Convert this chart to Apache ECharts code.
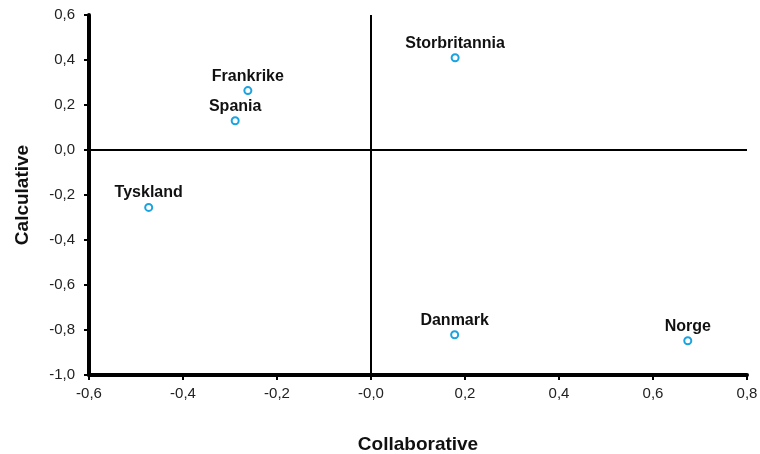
<!DOCTYPE html>
<html><head><meta charset="utf-8">
<script src="https://cdn.jsdelivr.net/npm/echarts@6/dist/echarts.min.js"></script>
<style>html,body{margin:0;padding:0;background:#fff}#c{width:760px;height:454px}</style>
</head><body><div id="c"></div>
<script>
var countries = ['Storbritannia','Frankrike','Spania','Tyskland','Danmark','Norge'];
var collaborative = [0.179, -0.262, -0.289, -0.473, 0.178, 0.674];
var calculative = [0.41, 0.264, 0.130, -0.255, -0.821, -0.848];
var xTitle = 'Collaborative';
var yTitle = 'Calculative';

var data = countries.map(function(n,i){return {name:n, value:[collaborative[i], calculative[i]]};});
function fmt(v){ return v.toFixed(1).replace('.', ','); }
var font = 'Liberation Sans, Arial, Helvetica, sans-serif';
var chart = echarts.init(document.getElementById('c'), null, {renderer:'canvas'});
chart.setOption({
  animation:false,
  grid:{left:89,right:13,top:15,bottom:79,containLabel:false,outerBoundsMode:'none'},
  xAxis:{
    type:'value',min:-0.6,max:0.8,interval:0.2,
    name:xTitle,nameLocation:'middle',nameGap:60,
    nameTextStyle:{fontFamily:font,fontWeight:'bold',fontSize:19,color:'#111'},
    axisLine:{onZero:false,lineStyle:{color:'#000',width:4}},
    axisTick:{show:true,length:5,lineStyle:{color:'#000',width:2}},
    axisLabel:{fontFamily:font,fontSize:15,color:'#222',margin:11,
      formatter:function(v){ return Math.abs(v)<1e-9 ? '-0,0' : fmt(v); }},
    splitLine:{show:false}
  },
  yAxis:{
    type:'value',min:-1.0,max:0.6,interval:0.2,
    name:yTitle,nameLocation:'middle',nameGap:57,nameRotate:90,
    nameTextStyle:{fontFamily:font,fontWeight:'bold',fontSize:19,color:'#111'},
    axisLine:{onZero:false,lineStyle:{color:'#000',width:4}},
    axisTick:{show:true,length:5,lineStyle:{color:'#000',width:2}},
    axisLabel:{fontFamily:font,fontSize:15,color:'#222',margin:14,
      formatter:function(v){ return Math.abs(v)<1e-9 ? '0,0' : fmt(v); }},
    splitLine:{show:false}
  },
  series:[{
    type:'scatter',
    data:data,
    symbol:'circle',symbolSize:7,
    itemStyle:{color:'#fff',borderColor:'#1aa3e0',borderWidth:2,opacity:1},
    label:{show:true,position:'top',distance:2,formatter:'{b}',
      fontFamily:font,fontWeight:'bold',fontSize:16,color:'#111'},
    markLine:{
      silent:true,symbol:['none','none'],
      lineStyle:{color:'#000',width:2,type:'solid'},
      label:{show:false},
      data:[{xAxis:0},{yAxis:0}]
    },
    z:3
  }]
});
</script></body></html>
